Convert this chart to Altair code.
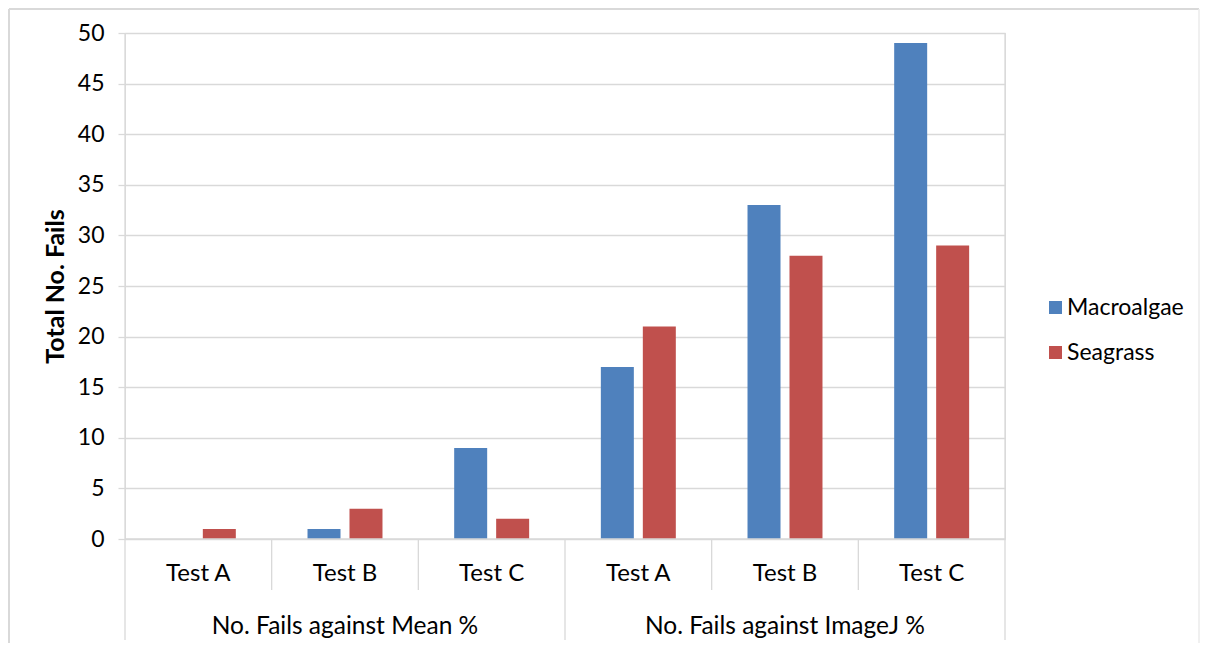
import altair as alt
import pandas as pd

groups = ["No. Fails against Mean %", "No. Fails against ImageJ %"]
tests = ["Test A", "Test B", "Test C"]
series = ["Macroalgae", "Seagrass"]
macroalgae = [0, 1, 9, 17, 33, 49]
seagrass = [1, 3, 2, 21, 28, 29]
colors = ["#4F81BD", "#C0504D"]

FONT = "Lato"
GRID = "#D9D9D9"

keys = [f"{g}|{t}" for g in groups for t in tests]
rows = []
for i, k in enumerate(keys):
    g, t = k.split("|")
    rows.append({"key": k, "group": g, "test": t, "series": series[0], "value": macroalgae[i]})
    rows.append({"key": k, "group": g, "test": t, "series": series[1], "value": seagrass[i]})
bars_df = pd.DataFrame(rows)
cat_df = pd.DataFrame([{"key": k, "group": k.split("|")[0], "test": k.split("|")[1]} for k in keys])

xscale = alt.Scale(domain=keys, paddingInner=0, paddingOuter=0)
yscale = alt.Scale(domain=[0, 50], nice=False)

bars = alt.Chart(bars_df).mark_bar(strokeWidth=0).encode(
    x=alt.X("key:N", scale=xscale, axis=None, sort=keys),
    xOffset=alt.XOffset("series:N", scale=alt.Scale(domain=series, paddingInner=0.214, paddingOuter=0.854)),
    y=alt.Y("value:Q", scale=yscale,
            axis=alt.Axis(title="Total No. Fails", values=list(range(0, 51, 5)), grid=True,
                          gridColor=GRID, gridWidth=1.3, domain=False, tickColor=GRID, tickSize=7,
                          tickWidth=1.3, labelPadding=14, labelFont=FONT, labelFontSize=23,
                          labelColor="#000000", titleFont=FONT, titleFontSize=25,
                          titleFontWeight="bold", titleColor="#000000", titlePadding=9)),
    color=alt.Color("series:N", scale=alt.Scale(domain=series, range=colors),
                    legend=alt.Legend(title=None, orient="none", legendX=919, legendY=263,
                                      symbolType="square", symbolSize=169, symbolStrokeWidth=0,
                                      labelFont=FONT, labelFontSize=23, labelColor="#000000",
                                      labelOffset=0, rowPadding=21)),
)

one = cat_df.head(1)

# bottom axis line
base_line = alt.Chart(one).mark_rule(color=GRID, strokeWidth=1.3).encode(
    x=alt.value(0), x2=alt.value(880), y=alt.value(506)
)

# side lines (left and right edges of plot area)
left_line = alt.Chart(one).mark_rule(color=GRID, strokeWidth=1.3).encode(
    x=alt.X("key:N", scale=xscale, axis=None, bandPosition=0), y=alt.value(0), y2=alt.value(607)
)
right_line = alt.Chart(cat_df.tail(1)).mark_rule(color=GRID, strokeWidth=1.3).encode(
    x=alt.X("key:N", scale=xscale, axis=None, bandPosition=1), y=alt.value(0), y2=alt.value(607)
)
# group divider
group_div = alt.Chart(cat_df[cat_df["test"] == tests[0]].iloc[1:]).mark_rule(color=GRID, strokeWidth=1.3).encode(
    x=alt.X("key:N", scale=xscale, axis=None, bandPosition=0), y=alt.value(506), y2=alt.value(607)
)
# inner dividers
inner_div = alt.Chart(cat_df[cat_df["test"] != tests[0]]).mark_rule(color=GRID, strokeWidth=1.3).encode(
    x=alt.X("key:N", scale=xscale, axis=None, bandPosition=0), y=alt.value(506), y2=alt.value(557)
)

test_labels = alt.Chart(cat_df).mark_text(font=FONT, fontSize=24, color="#000000", baseline="middle").encode(
    x=alt.X("key:N", scale=xscale, axis=None), y=alt.value(541), text="test:N"
)
group_labels = alt.Chart(cat_df[cat_df["test"] == tests[1]]).mark_text(font=FONT, fontSize=24.5, color="#000000", baseline="middle").encode(
    x=alt.X("key:N", scale=xscale, axis=None), y=alt.value(594), text="group:N"
)

# outer chart border (top, left, right; open at the bottom)
frame_top = alt.Chart(one).mark_rule(color=GRID, strokeWidth=2).encode(
    x=alt.value(-116), x2=alt.value(1074), y=alt.value(-24)
)
frame_left = alt.Chart(one).mark_rule(color=GRID, strokeWidth=2).encode(
    x=alt.value(-116), y=alt.value(-24), y2=alt.value(612)
)
frame_right = alt.Chart(one).mark_rule(color="#EBEBEB", strokeWidth=1.5).encode(
    x=alt.value(1074), y=alt.value(-24), y2=alt.value(612)
)

chart = alt.layer(frame_top, frame_left, frame_right, bars, base_line, left_line, right_line,
                  group_div, inner_div, test_labels, group_labels).properties(
    width=880, height=506,
    autosize=alt.AutoSizeParams(type="none"),
    padding={"left": 117, "top": 25, "right": 195, "bottom": 104},
).configure_view(stroke=None).configure(background="#FFFFFF")

chart.save("out.html", embed_options={"renderer": "svg", "actions": False})
